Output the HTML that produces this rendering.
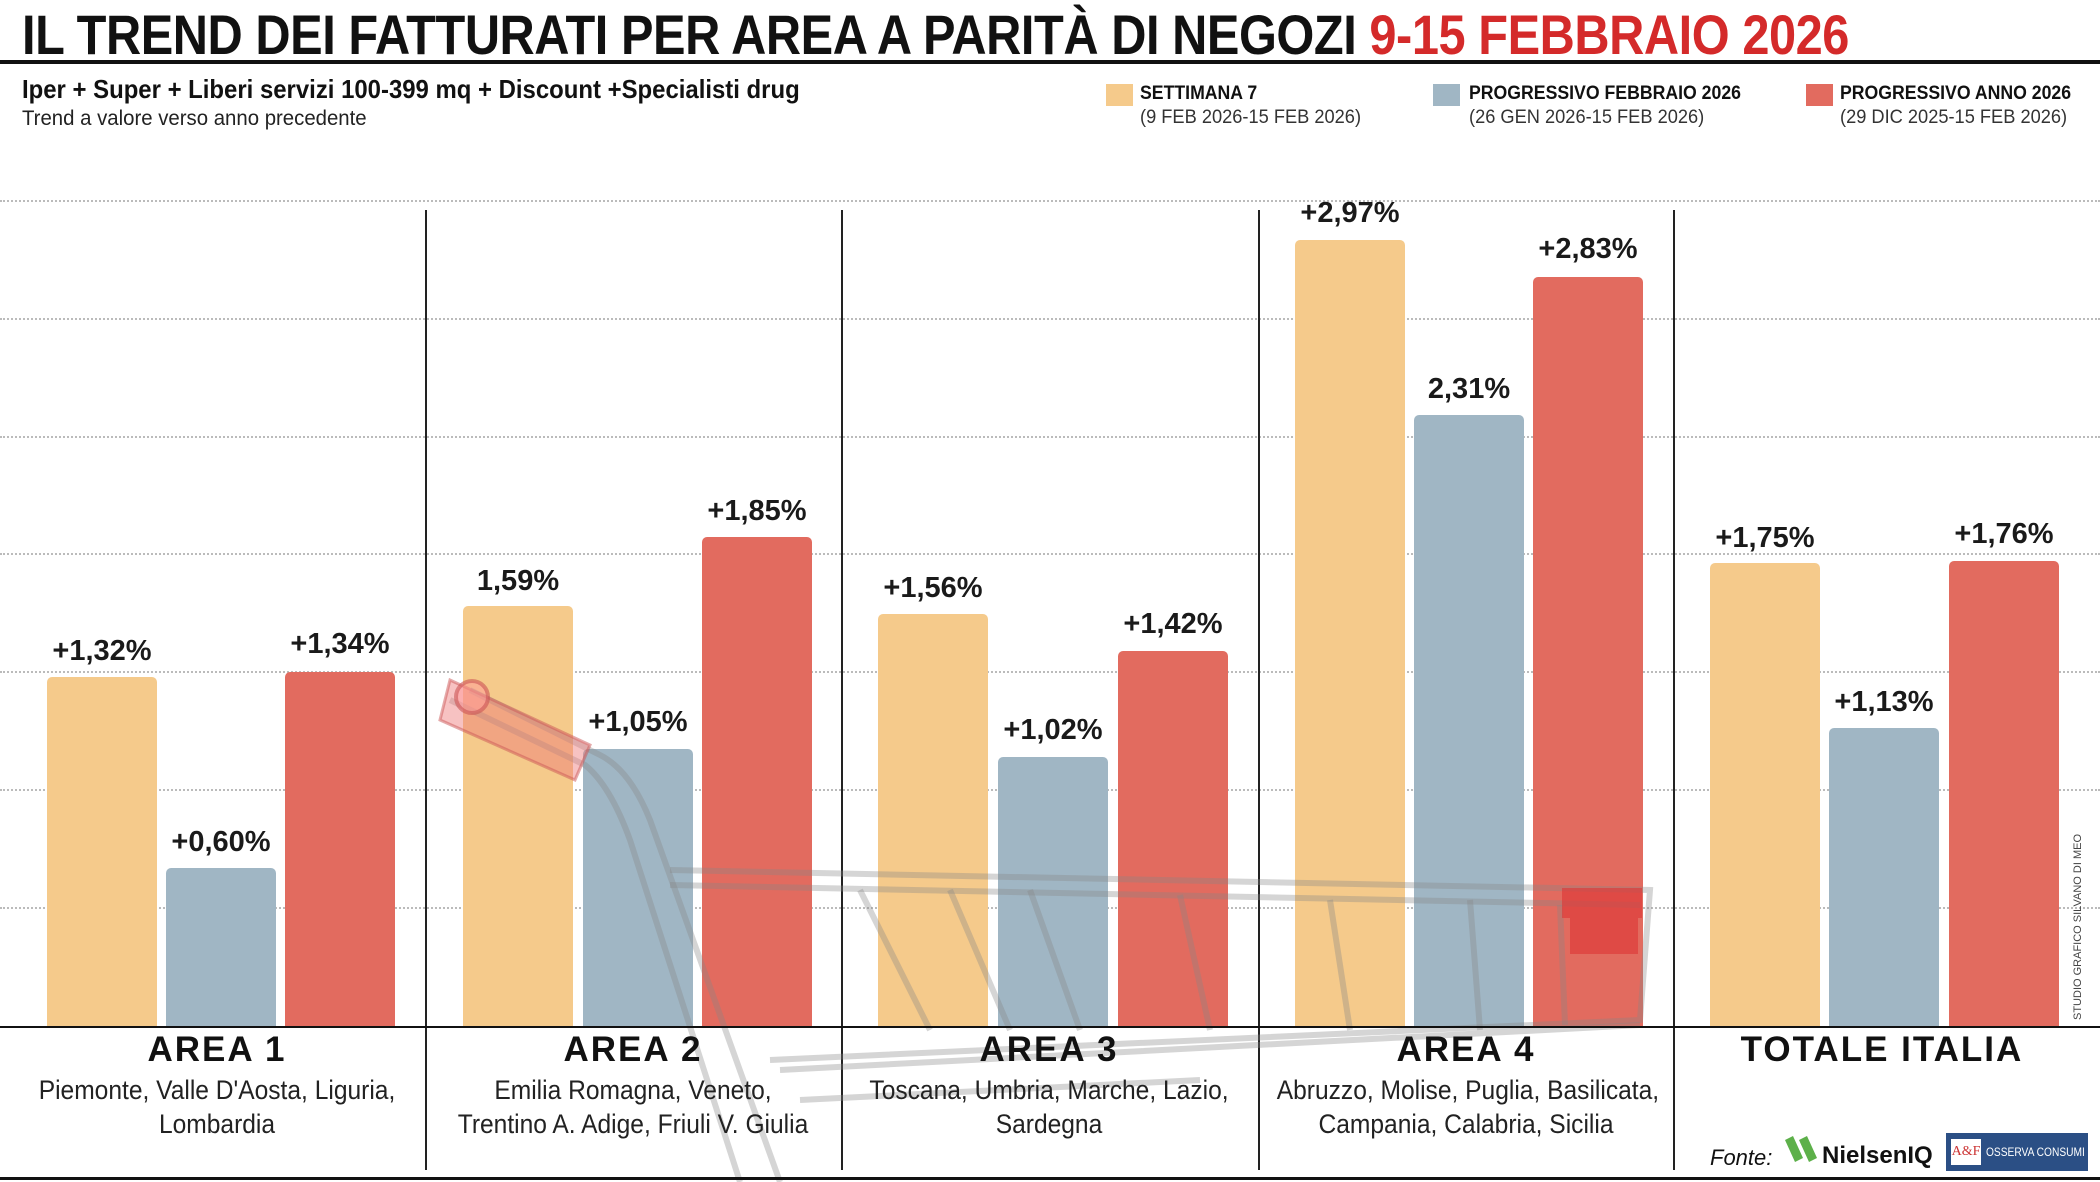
<!DOCTYPE html>
<html><head><meta charset="utf-8">
<style>
*{margin:0;padding:0;box-sizing:border-box}
body{width:2100px;height:1182px;background:#fff;position:relative;overflow:hidden;font-family:"Liberation Sans",sans-serif;color:#111}
.a{position:absolute;white-space:nowrap}
.title{left:22px;top:2px;font-size:56px;font-weight:bold;letter-spacing:-0.5px;transform:scaleX(0.87);transform-origin:0 0}
.grid{position:absolute;left:0;width:2100px;border-top:2px dotted #bbb;height:0}
.vs{position:absolute;width:2px;background:#222;top:210px;height:960px}
.bar{position:absolute;width:110px;border-radius:5px 5px 0 0;bottom:155px}
.y{background:#f5ca8b}.b{background:#a0b6c4}.r{background:#e26b5f}
.lab{position:absolute;width:160px;text-align:center;font-weight:bold;font-size:29px;color:#1a1a1a}
.area{position:absolute;width:416px;text-align:center;font-weight:bold;font-size:35px;letter-spacing:2px;top:1030px}
.sub{position:absolute;width:416px;text-align:center;font-size:27px;line-height:34px;top:1073px;color:#222;white-space:nowrap;transform:scaleX(0.91)}
.leg{position:absolute;width:27px;height:22px;top:84px}
.lt{font-size:19px;font-weight:bold;top:83px;transform:scaleX(0.93);transform-origin:0 0}
.ld{font-size:19px;top:107px;color:#333;transform:scaleX(0.96);transform-origin:0 0}
</style></head><body>
<div class="a title">IL TREND DEI FATTURATI PER AREA A PARITÀ DI NEGOZI <span style="color:#d42a2a">9-15 FEBBRAIO 2026</span></div>
<div class="a" style="left:0;top:60px;width:2100px;height:4px;background:#111"></div>
<div class="a" style="left:22px;top:74px;font-size:26px;font-weight:bold;transform:scaleX(0.92);transform-origin:0 0">Iper + Super + Liberi servizi 100-399 mq + Discount +Specialisti drug</div>
<div class="a" style="left:22px;top:107px;font-size:21px;color:#222;transform:scaleX(0.97);transform-origin:0 0">Trend a valore verso anno precedente</div>

<div class="leg y" style="left:1106px"></div><div class="a lt" style="left:1140px">SETTIMANA 7</div><div class="a ld" style="left:1140px">(9 FEB 2026-15 FEB 2026)</div>
<div class="leg b" style="left:1433px"></div><div class="a lt" style="left:1469px">PROGRESSIVO FEBBRAIO 2026</div><div class="a ld" style="left:1469px">(26 GEN 2026-15 FEB 2026)</div>
<div class="leg r" style="left:1806px"></div><div class="a lt" style="left:1840px">PROGRESSIVO ANNO 2026</div><div class="a ld" style="left:1840px">(29 DIC 2025-15 FEB 2026)</div>

<div class="grid" style="top:200px"></div><div class="grid" style="top:318px"></div><div class="grid" style="top:436px"></div><div class="grid" style="top:553px"></div><div class="grid" style="top:671px"></div><div class="grid" style="top:789px"></div><div class="grid" style="top:907px"></div>

<div class="vs" style="left:425px"></div><div class="vs" style="left:841px"></div><div class="vs" style="left:1258px"></div><div class="vs" style="left:1673px"></div>

<div class="bar y" style="left:47px;height:350px"></div><div class="bar b" style="left:166px;height:159px"></div><div class="bar r" style="left:285px;height:355px"></div>
<div class="bar y" style="left:463px;height:421px"></div><div class="bar b" style="left:583px;height:278px"></div><div class="bar r" style="left:702px;height:490px"></div>
<div class="bar y" style="left:878px;height:413px"></div><div class="bar b" style="left:998px;height:270px"></div><div class="bar r" style="left:1118px;height:376px"></div>
<div class="bar y" style="left:1295px;height:787px"></div><div class="bar b" style="left:1414px;height:612px"></div><div class="bar r" style="left:1533px;height:750px"></div>
<div class="bar y" style="left:1710px;height:464px"></div><div class="bar b" style="left:1829px;height:299px"></div><div class="bar r" style="left:1949px;height:466px"></div>

<div class="lab" style="left:22px;top:635px">+1,32%</div><div class="lab" style="left:141px;top:826px">+0,60%</div><div class="lab" style="left:260px;top:628px">+1,34%</div>
<div class="lab" style="left:438px;top:565px">1,59%</div><div class="lab" style="left:558px;top:706px">+1,05%</div><div class="lab" style="left:677px;top:495px">+1,85%</div>
<div class="lab" style="left:853px;top:572px">+1,56%</div><div class="lab" style="left:973px;top:714px">+1,02%</div><div class="lab" style="left:1093px;top:608px">+1,42%</div>
<div class="lab" style="left:1270px;top:197px">+2,97%</div><div class="lab" style="left:1389px;top:373px">2,31%</div><div class="lab" style="left:1508px;top:233px">+2,83%</div>
<div class="lab" style="left:1685px;top:522px">+1,75%</div><div class="lab" style="left:1804px;top:686px">+1,13%</div><div class="lab" style="left:1924px;top:518px">+1,76%</div>

<svg class="a" style="left:0;top:0" width="2100" height="1182">
<g fill="none" stroke="#888" stroke-opacity="0.35" stroke-width="6">
<path d="M470 690 L600 755 Q630 770 650 820 L780 1182"/>
<path d="M450 700 L585 765 Q610 785 630 840 L740 1182"/>
<path d="M670 870 L1650 890 L1640 1020 L770 1060"/>
<path d="M670 885 L1640 905"/>
<path d="M860 890 L930 1030 M950 890 L1010 1030 M1030 890 L1080 1030 M1180 895 L1210 1030 M1330 900 L1350 1030 M1470 900 L1480 1030 M1560 905 L1565 1025"/>
<path d="M780 1070 L1640 1025 M800 1100 L1200 1080"/>
</g>
<path d="M450 680 L590 745 L575 780 L440 720 Z" fill="#e77" fill-opacity="0.45" stroke="#c55" stroke-opacity="0.5" stroke-width="3"/>
<circle cx="472" cy="697" r="16" fill="#f99" fill-opacity="0.5" stroke="#c55" stroke-opacity="0.6" stroke-width="4"/>
<rect x="1562" y="888" width="80" height="30" fill="#d33" fill-opacity="0.6"/>
<rect x="1570" y="918" width="68" height="36" fill="#d33" fill-opacity="0.6"/>
</svg>

<div class="a" style="left:0;top:1026px;width:2100px;height:2px;background:#111"></div>
<div class="a" style="left:0;top:1177px;width:2100px;height:3px;background:#111"></div>

<div class="area" style="left:9px">AREA 1</div><div class="area" style="left:425px">AREA 2</div><div class="area" style="left:841px">AREA 3</div><div class="area" style="left:1258px">AREA 4</div><div class="area" style="left:1674px">TOTALE ITALIA</div>
<div class="sub" style="left:9px">Piemonte, Valle D'Aosta, Liguria,<br>Lombardia</div>
<div class="sub" style="left:425px">Emilia Romagna, Veneto,<br>Trentino A. Adige, Friuli V. Giulia</div>
<div class="sub" style="left:841px">Toscana, Umbria, Marche, Lazio,<br>Sardegna</div>
<div class="sub" style="left:1258px">Abruzzo, Molise, Puglia, Basilicata,<br>Campania, Calabria, Sicilia</div>

<div class="a" style="left:1710px;top:1145px;font-size:22px;font-style:italic">Fonte:</div>
<svg class="a" style="left:1785px;top:1136px" width="40" height="28"><path d="M0 4 L8 0 L18 22 L10 26Z M14 4 L22 0 L32 22 L24 26Z" fill="#5db04a"/></svg>
<div class="a" style="left:1822px;top:1142px;font-size:24px;font-weight:bold">NielsenIQ</div>
<div class="a" style="left:1946px;top:1133px;width:142px;height:38px;background:#2b4f85"></div>
<div class="a" style="left:1951px;top:1139px;width:30px;height:26px;background:#fff;color:#c33;font-size:14px;font-family:'Liberation Serif',serif;text-align:center;line-height:26px">A&amp;F</div>
<div class="a" style="left:1986px;top:1145px;color:#fff;font-size:12px;transform:scaleX(0.85);transform-origin:0 0">OSSERVA CONSUMI</div>
<div class="a" style="left:2072px;top:1020px;font-size:11px;color:#444;transform:rotate(-90deg);transform-origin:0 0">STUDIO GRAFICO SILVANO DI MEO</div>
</body></html>
